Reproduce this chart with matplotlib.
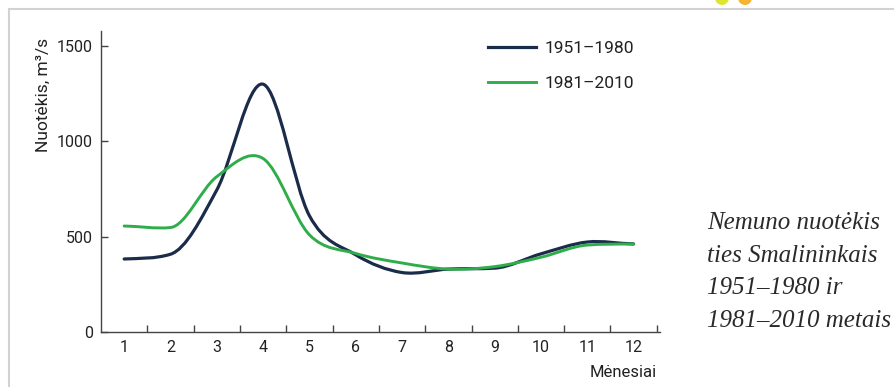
import numpy as np
import matplotlib
matplotlib.use("Agg")
import matplotlib.pyplot as plt
from matplotlib.path import Path
from matplotlib.patches import PathPatch, Circle
from matplotlib.lines import Line2D

# monthly mean discharge of Nemunas at Smalininkai, m3/s
months = list(range(1, 13))
month_labels = [str(m) for m in months]
flow_1951_1980 = [383, 408, 745, 1300, 610, 405, 312, 330, 335, 410, 472, 462]
flow_1981_2010 = [556, 548, 815, 910, 510, 412, 362, 330, 343, 392, 456, 462]
series_names = ["1951–1980", "1981–2010"]
y_ticks = [0, 500, 1000, 1500]

BLUE = "#1b2c4b"
GREEN = "#30ad4b"
W, H = 894, 387


def smooth_path(x, y):
    # catmull-rom bezier through the monthly values, tangents clamped so
    # flat stretches don't sag
    x = np.asarray(x, float)
    y = np.asarray(y, float)
    n = len(x)
    d = np.diff(y) / np.diff(x)
    t = np.zeros(n)
    t[1:-1] = (y[2:] - y[:-2]) / (x[2:] - x[:-2])
    lim = 3 * np.minimum(np.abs(d[:-1]), np.abs(d[1:]))
    t[1:-1] = np.clip(t[1:-1], -lim, lim)
    t[0] = 0.5 * d[0]
    t[-1] = 0.5 * d[-1]
    verts = [(x[0], y[0])]
    codes = [Path.MOVETO]
    for i in range(n - 1):
        h = x[i + 1] - x[i]
        verts += [(x[i] + h / 3, y[i] + t[i] * h / 3),
                  (x[i + 1] - h / 3, y[i + 1] - t[i + 1] * h / 3),
                  (x[i + 1], y[i + 1])]
        codes += [Path.CURVE4] * 3
    return Path(verts, codes)


plt.rcParams["font.family"] = ["Roboto", "DejaVu Sans"]

fig = plt.figure(figsize=(W / 100, H / 100), dpi=100)
ax = fig.add_axes([101 / W, 55 / H, 559 / W, 301 / H])

for vals, col, lw in [(flow_1951_1980, BLUE, 2.3), (flow_1981_2010, GREEN, 2.1)]:
    ax.add_patch(PathPatch(smooth_path(months, vals), fill=False, edgecolor=col,
                           lw=lw, capstyle="round", joinstyle="round"))

ax.set_xlim(0.5, 12.57)
ax.set_ylim(0, 1579)

for s in ["top", "right"]:
    ax.spines[s].set_visible(False)
for s in ["left", "bottom"]:
    ax.spines[s].set_color("#444444")
    ax.spines[s].set_linewidth(1.0)

ax.set_xticks(months)
ax.set_xticklabels(month_labels)
ax.set_xticks([m + 0.5 for m in months], minor=True)
ax.tick_params(axis="x", which="major", length=0, pad=6, labelsize=11.5, colors="#222222")
ax.tick_params(axis="x", which="minor", direction="in", length=5, width=1, color="#444444")
ax.set_yticks(y_ticks)
ax.tick_params(axis="y", direction="in", length=5, width=1, color="#444444",
               pad=6, labelsize=11.5, labelcolor="#222222")

fig.text(43 / W, 1 - 95 / H, "Nuotėkis, m³/s", rotation=90, ha="center", va="center",
         fontsize=12.5, color="#222222")
fig.text(657 / W, 1 - 377 / H, "Mėnesiai", ha="right", va="baseline",
         fontsize=12, color="#222222")

handles = [Line2D([], [], color=BLUE, lw=2.3), Line2D([], [], color=GREEN, lw=2.1)]
ax.legend(handles, series_names, loc="center left", bbox_to_anchor=(488 / W, 1 - 66 / H),
          bbox_transform=fig.transFigure, frameon=False, fontsize=12.5,
          handlelength=2.75, handletextpad=0.5, labelspacing=1.1,
          borderpad=0, borderaxespad=0, labelcolor="#222222")

fig.text(707 / W, 1 - 212 / H,
         "Nemuno nuotėkis\nties Smalininkais\n1951–1980 ir\n1981–2010 metais",
         ha="left", va="top", fontsize=18, fontstyle="italic",
         family="Liberation Serif", color="#2a2a2a", linespacing=1.62)

# page frame and decoration from the source page
fig.add_artist(Line2D([9 / W, 1], [1 - 9 / H, 1 - 9 / H], color="#d2d2d2", lw=1.5))
fig.add_artist(Line2D([9 / W, 9 / W], [0, 1 - 9 / H], color="#d2d2d2", lw=1.5))
fig.add_artist(Circle((722 / 100, (H + 2) / 100), 0.07, transform=fig.dpi_scale_trans,
                      color="#dde62f", lw=0))
fig.add_artist(Circle((745 / 100, (H + 2) / 100), 0.07, transform=fig.dpi_scale_trans,
                      color="#f5b431", lw=0))

fig.savefig("out.png", dpi=100)
plt.close(fig)
